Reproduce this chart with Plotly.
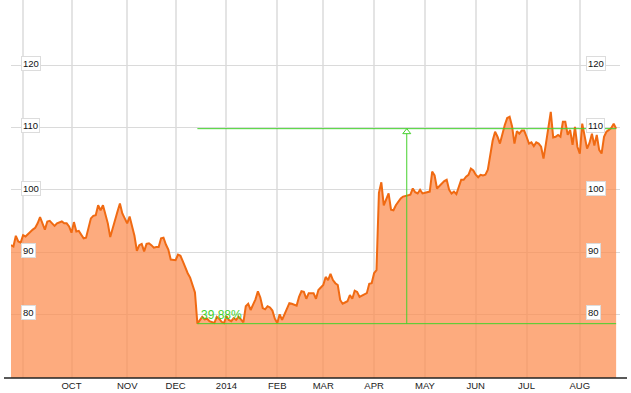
import pandas as pd
import plotly.graph_objects as go

# ---------------- data ----------------
HOLIDAYS = ["2013-09-02", "2013-11-28", "2013-12-25", "2014-01-01", "2014-01-20",
            "2014-02-17", "2014-04-18", "2014-05-26", "2014-07-04"]

aug13 = [91.1, 90.9, 92.6, 91.7, 91.5]
sep13 = [92.7, 92.5, 92.9, 93.3, 93.6, 93.9, 94.6, 95.6, 94.5, 93.6,
         94.9, 95.0, 94.6, 94.2, 94.6, 94.8, 94.9, 94.6, 94.6, 94.1]
oct13 = [93.1, 94.8, 93.3, 93.4, 92.7, 92.2, 92.3, 94.1, 95.4, 95.8, 95.9, 97.5,
         96.7, 97.5, 96.0, 94.6, 92.4, 93.8, 95.5, 96.5, 97.8, 96.2, 95.4]
nov13 = [94.6, 95.7, 94.3, 92.6, 90.2, 91.1, 91.3, 90.1, 91.3, 91.4,
         91.1, 90.7, 90.8, 90.8, 92.2, 92.3, 91.2, 90.4, 88.8, 88.7]
dec13 = [88.7, 89.6, 89.4, 88.5, 87.5, 86.6, 85.9, 84.6, 83.5, 78.5, 79.1,
         79.6, 79.2, 79.3, 78.9, 78.7, 78.6, 79.6, 79.3, 78.8, 78.6]
jan14 = [79.7, 79.1, 78.9, 79.4, 79.1, 79.6, 79.2, 78.7, 81.3, 81.7, 80.7,
         81.5, 82.4, 83.7, 82.7, 81.0, 80.8, 81.3, 81.1, 80.6, 79.3]
feb14 = [78.6, 80.0, 79.1, 80.1, 80.8, 81.8, 81.7, 81.6, 81.4, 82.8,
         83.7, 83.6, 82.5, 83.4, 83.4, 83.4, 82.5, 83.9, 84.3]
mar14 = [84.7, 86.0, 85.5, 86.5, 85.5, 85.0, 84.7, 82.3, 81.7, 81.9, 82.1,
         83.1, 82.5, 83.8, 83.6, 82.8, 83.0, 83.2, 83.4, 84.9, 85.0]
apr14 = [86.6, 87.1, 99.5, 101.2, 97.5, 98.5, 99.4, 96.8, 96.7, 97.5, 98.0,
         98.6, 98.9, 99.0, 99.1, 99.2, 100.2, 99.6, 99.4, 100.0, 99.4]
may14 = [99.5, 99.6, 99.7, 102.9, 102.3, 100.2, 100.6, 101.1, 101.4, 101.6, 100.0,
         99.4, 99.7, 99.3, 100.5, 101.6, 101.6, 102.1, 102.4, 103.4, 103.1]
jun14 = [102.4, 102.0, 102.4, 102.3, 102.4, 103.2, 105.5, 107.9, 109.3, 108.5, 107.4,
         109.0, 110.4, 111.5, 111.7, 110.2, 107.4, 109.4, 109.0, 109.5, 109.5]
jul14 = [108.5, 107.4, 107.6, 107.0, 107.6, 107.4, 106.9, 105.0, 107.4, 110.1, 112.5,
         108.4, 108.5, 108.8, 108.5, 110.9, 110.9, 108.8, 109.6, 107.2, 110.1, 106.9]
aug14 = [105.8, 110.6, 108.8, 106.6, 107.5, 109.0, 107.1, 108.8, 106.4, 105.8,
         108.5, 109.3, 109.6, 109.9, 110.6, 109.8]

TICK_MONTHS = ["2013-09", "2013-10", "2013-11", "2013-12", "2014-01", "2014-02",
               "2014-03", "2014-04", "2014-05", "2014-06", "2014-07", "2014-08"]
TICK_LABELS = ["", "OCT", "NOV", "DEC", "2014", "FEB", "MAR", "APR", "MAY", "JUN", "JUL", "AUG"]
Y_TICKS = [80, 90, 100, 110, 120]
CHANGE_TEXT = "39.88%"

# ---------------- style ----------------
LINE_COLOR = "#f06a12"
FILL_COLOR = "rgba(252,139,76,0.72)"
GREEN = "#44d12c"
FONT = "Liberation Sans, Arial, sans-serif"

prices = aug13 + sep13 + oct13 + nov13 + dec13 + jan14 + feb14 + mar14 + apr14 + may14 + jun14 + jul14 + aug14
days = pd.bdate_range("2013-08-26", "2014-08-22", freq="C", holidays=HOLIDAYS)
n = min(len(days), len(prices))
days = list(days[:n])
prices = prices[:n]

tickvals = []
for m in TICK_MONTHS:
    first = [d for d in days if d.strftime("%Y-%m") == m][0]
    tickvals.append(first)

i_low = min(range(n), key=lambda i: prices[i])
i_last = n - 1
low_val = prices[i_low]
high_val = prices[i_last]
mid = (i_low + i_last) / 2
mid_floor = int(mid)
mid_date = days[mid_floor] + (days[mid_floor + 1] - days[mid_floor]) * (mid - mid_floor)

fig = go.Figure()
fig.add_trace(go.Scatter(
    x=days, y=prices, mode="lines",
    line=dict(color=LINE_COLOR, width=2),
    fill="tozeroy", fillcolor=FILL_COLOR,
    hoverinfo="skip",
))

shapes = [
    dict(type="line", xref="x", yref="y", x0=days[i_low], x1=days[i_last], y0=low_val, y1=low_val,
         line=dict(color=GREEN, width=1)),
    dict(type="line", xref="x", yref="y", x0=days[i_low], x1=days[i_last], y0=high_val, y1=high_val,
         line=dict(color=GREEN, width=1)),
    dict(type="line", xref="x", yref="y", x0=mid_date, x1=mid_date, y0=low_val, y1=high_val,
         line=dict(color=GREEN, width=1)),
    dict(type="path", xref="x", yref="y", xsizemode="pixel", ysizemode="pixel",
         xanchor=mid_date, yanchor=high_val, path="M-4,-5 L0,0 L4,-5 Z",
         line=dict(color=GREEN, width=1), fillcolor="white"),
    dict(type="line", xref="paper", yref="paper", x0=-0.0115, x1=1.0115, y0=0, y1=0,
         line=dict(color="#222222", width=1.3)),
]

annotations = []
for v in Y_TICKS:
    for xp in (0.0172, 0.944):
        annotations.append(dict(
            xref="paper", yref="y", x=xp, y=v, xanchor="left", yanchor="middle", yshift=1.5,
            text=str(v), showarrow=False, font=dict(family=FONT, size=9.5, color="#111111"),
            bgcolor="white", bordercolor="#dcdcdc", borderwidth=1, borderpad=1,
        ))
annotations.append(dict(
    xref="x", yref="y", x=days[i_low], y=low_val, xanchor="left", yanchor="bottom",
    xshift=2, yshift=0, text=CHANGE_TEXT, showarrow=False,
    font=dict(family=FONT, size=12, color=GREEN),
))

fig.update_layout(
    width=631, height=393,
    margin=dict(l=11, r=11, t=0, b=15),
    paper_bgcolor="white", plot_bgcolor="white",
    showlegend=False,
    shapes=shapes, annotations=annotations,
    font=dict(family=FONT),
    xaxis=dict(
        type="date",
        range=["2013-08-26", "2014-08-25 14:24"],
        rangebreaks=[dict(bounds=["sat", "mon"]), dict(values=HOLIDAYS)],
        tickmode="array", tickvals=tickvals, ticktext=TICK_LABELS,
        showgrid=True, gridcolor="#e4e4e4", gridwidth=2,
        ticks="", showline=False, zeroline=False,
        tickfont=dict(family=FONT, size=9.5, color="#222222"),
    ),
    yaxis=dict(
        range=[69.78, 130.45],
        tickmode="array", tickvals=Y_TICKS,
        showticklabels=False, showgrid=True, gridcolor="#dadada", gridwidth=1,
        zeroline=False, ticks="", showline=False,
    ),
)

fig.write_html("out.html")
